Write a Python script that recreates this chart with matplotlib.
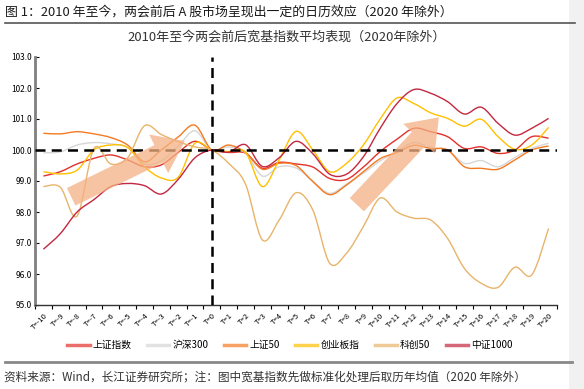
import numpy as np
import matplotlib
matplotlib.use('Agg')
import matplotlib.pyplot as plt
from matplotlib.path import Path
from matplotlib.patches import PathPatch, Rectangle
from matplotlib.lines import Line2D

plt.rcParams['font.family'] = ['Noto Sans CJK SC', 'DejaVu Sans']

# x categories
t_labels = [f'T={k}' for k in range(-10, 21)]

# index series (normalised, T=0 -> 100)
sh_index = [99.16, 99.3, 99.55, 99.73, 99.84, 99.68, 99.46, 99.52, 99.92, 100.28, 100.0,
            99.92, 99.9, 99.41, 99.6, 99.55, 99.45, 99.08, 99.05, 99.45, 99.95,
            100.35, 100.7, 100.59, 100.43, 100.05, 100.1, 99.89, 100.0, 100.43, 100.38]
hs300 = [99.91, 99.94, 100.16, 100.24, 100.2, 100.08, 99.55, 99.65, 100.12, 100.62, 100.0,
         100.1, 99.9, 99.16, 99.46, 99.42, 99.0, 98.6, 98.9, 99.25, 99.65,
         99.95, 100.24, 100.08, 100.0, 99.57, 99.66, 99.46, 99.76, 100.05, 100.22]
sz50 = [100.54, 100.52, 100.59, 100.52, 100.4, 100.16, 99.62, 100.0, 100.42, 100.8, 100.0,
        100.16, 99.92, 99.38, 99.57, 99.5, 98.98, 98.56, 98.87, 99.3, 99.72,
        99.92, 100.15, 100.05, 100.0, 99.46, 99.41, 99.38, 99.68, 100.0, 100.13]
cyb = [99.3, 99.23, 99.35, 100.0, 100.16, 100.08, 99.46, 99.1, 99.12, 100.22, 100.0,
       99.95, 99.93, 98.82, 99.68, 100.6, 100.0, 99.3, 99.57, 100.16, 101.0,
       101.68, 101.5, 101.2, 101.02, 100.77, 100.99, 100.43, 100.02, 100.16, 100.73]
kc50 = [98.82, 98.8, 97.87, 100.05, 99.55, 99.75, 100.78, 100.5, 100.27, 100.1, 100.0,
        99.57, 98.9, 97.1, 97.74, 98.62, 98.06, 96.35, 96.67, 97.53, 98.45,
        98.0, 97.8, 97.74, 97.15, 96.18, 95.7, 95.57, 96.22, 95.97, 97.47]
zz1000 = [96.8, 97.3, 98.0, 98.4, 98.82, 98.92, 98.85, 98.58, 99.05, 99.75, 100.0,
          99.93, 100.17, 99.47, 99.75, 100.28, 99.88, 99.22, 99.22, 99.78, 100.7,
          101.5, 101.95, 101.83, 101.56, 101.16, 101.38, 100.86, 100.48, 100.7, 101.02]

series_names = ['上证指数', '沪深300', '上证50', '创业板指', '科创50', '中证1000']
series_vals = [sh_index, hs300, sz50, cyb, kc50, zz1000]
colors = ['#E2312B', '#D6D6D6', '#F47A22', '#FFC000', '#E8B46A', '#C2273F']


def smooth_path(x, y):
    """Excel-style smoothed line as cubic bezier path."""
    n = len(x)
    verts = [(x[0], y[0])]
    codes = [Path.MOVETO]
    for i in range(n - 1):
        i0 = max(i - 1, 0)
        i3 = min(i + 2, n - 1)
        c1 = (x[i] + (x[i + 1] - x[i0]) / 6, y[i] + (y[i + 1] - y[i0]) / 6)
        c2 = (x[i + 1] - (x[i3] - x[i]) / 6, y[i + 1] - (y[i3] - y[i]) / 6)
        verts += [c1, c2, (x[i + 1], y[i + 1])]
        codes += [Path.CURVE4] * 3
    return Path(verts, codes)


fig = plt.figure(figsize=(5.84, 3.89), dpi=100)
W, H = 584, 389
ax = fig.add_axes([35 / W, 1 - 305 / H, (557 - 35) / W, (305 - 57) / H])

xs = np.arange(len(t_labels))
for vals, c in zip(series_vals, colors):
    ax.add_patch(PathPatch(smooth_path(xs, vals), fill=False, edgecolor=c, lw=1.0, zorder=3))

ax.axhline(100, color='black', lw=1.8, ls=(0, (4, 2.5)), zorder=4)
i0 = t_labels.index('T=0')
ax.axvline(i0, color='black', lw=1.8, ls=(0, (4, 2.5)), zorder=4)

# trend arrows
arrow_kw = dict(arrowstyle='simple,head_length=21,head_width=31,tail_width=14',
                color='#F4B183', alpha=0.75, lw=0, mutation_scale=1)
ax.annotate('', xy=(i0 - 1.45, 100.33), xytext=(i0 - 8.5, 98.45),
            arrowprops=arrow_kw, zorder=5)
ax.annotate('', xy=(i0 + 13.6, 101.12), xytext=(i0 + 8.5, 98.17),
            arrowprops=arrow_kw, zorder=5)

ax.set_xlim(-0.5, len(t_labels) - 0.5)
ax.set_ylim(95, 103)
ax.set_yticks(np.arange(95, 103.1, 1))
ax.set_yticklabels([f'{v:.1f}' for v in np.arange(95, 103.1, 1)], fontsize=6)
ax.tick_params(axis='y', direction='in', length=3, width=0.8, pad=2)
ax.set_xticks(xs)
ax.set_xticklabels(t_labels, fontsize=5.5, rotation=45, ha='right', rotation_mode='anchor')
ax.tick_params(axis='x', which='major', length=0, pad=5)
ax.set_xticks(np.arange(-0.5, len(t_labels), 1), minor=True)
ax.tick_params(axis='x', which='minor', direction='out', length=3, width=0.8)

for s in ['top', 'right']:
    ax.spines[s].set_visible(False)
ax.spines['left'].set_color('#808080')
ax.spines['left'].set_linewidth(2)
ax.spines['bottom'].set_color('#333333')
ax.spines['bottom'].set_linewidth(1)

# legend
handles = [Line2D([], [], color=c, lw=2.5, alpha=0.7) for c in colors]
fig.legend(handles, series_names, loc='center', bbox_to_anchor=(290 / W, 1 - 345 / H),
           ncol=6, frameon=False, fontsize=7, handlelength=2.3, handletextpad=0.3,
           columnspacing=1.6)

# header / title / source
fig.text(5 / W, 1 - 12 / H, '图 1：2010 年至今，两会前后 A 股市场呈现出一定的日历效应（2020 年除外）',
         fontsize=9.3, va='center', ha='left', color='#1a1a1a')
fig.add_artist(Line2D([5 / W, 575 / W], [1 - 23 / H] * 2, color='#555555', lw=1.2))
fig.text(287 / W, 1 - 37 / H, '2010年至今两会前后宽基指数平均表现（2020年除外）',
         fontsize=9.4, va='center', ha='center', color='#333333')
fig.add_artist(Line2D([5 / W, 572 / W], [1 - 362 / H] * 2, color='#888888', lw=2))
fig.text(4 / W, 1 - 377 / H, '资料来源：Wind，长江证券研究所；注：图中宽基指数先做标准化处理后取历年均值（2020 年除外）',
         fontsize=8.4, va='center', ha='left', color='#333333')

fig.add_artist(Rectangle((569 / W, 0), 15 / W, 1, transform=fig.transFigure,
                         color='#F1F1F1', lw=0, zorder=-1))

fig.savefig('out.png', dpi=100)
